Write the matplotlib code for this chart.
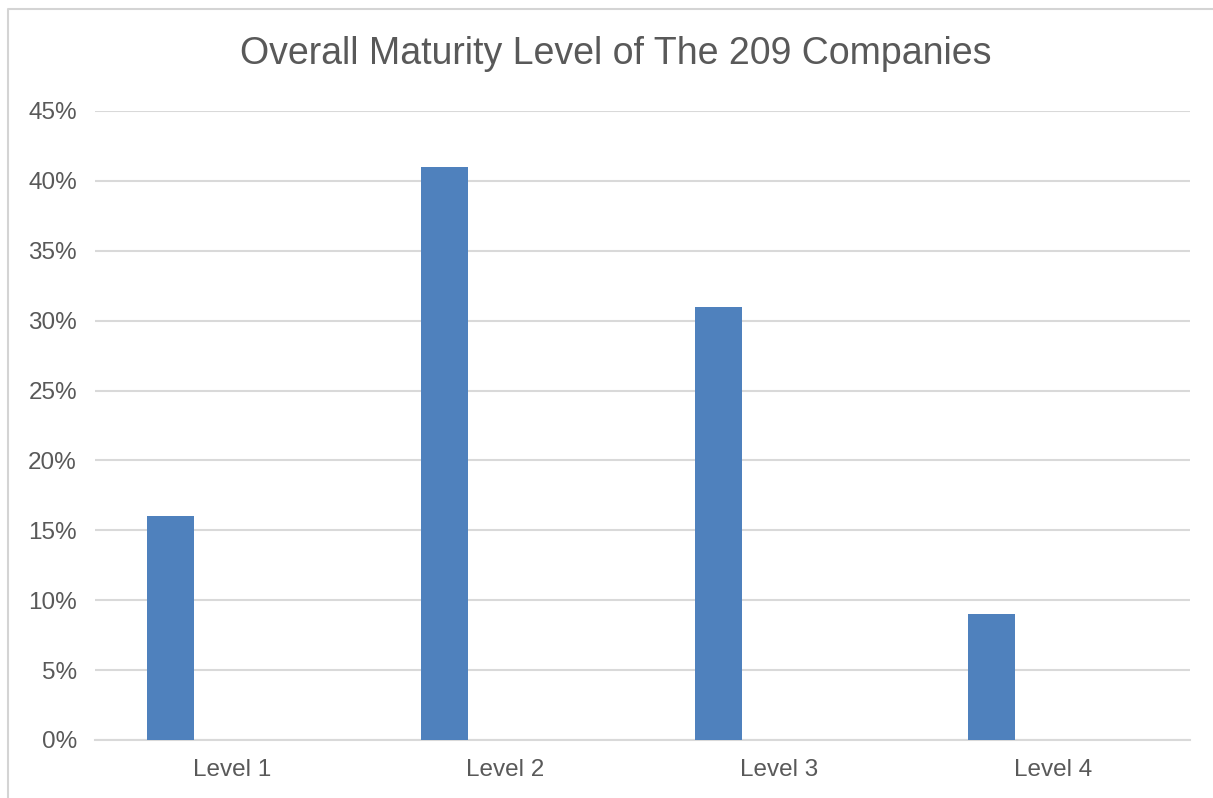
import matplotlib
matplotlib.use("Agg")
import matplotlib.pyplot as plt
from matplotlib.lines import Line2D
from matplotlib.ticker import MultipleLocator, FuncFormatter
import numpy as np

levels = ["Level 1", "Level 2", "Level 3", "Level 4"]
share = [16, 41, 31, 9]  # percent of the 209 companies

plt.rcParams["font.family"] = ["Liberation Sans", "DejaVu Sans"]
TXT = "#595959"
GRID = "#d9d9d9"

fig = plt.figure(figsize=(12.13, 7.98), dpi=100)
W, H = 1213, 798
ax = fig.add_axes([95 / W, 1 - 740 / H, (1190 - 95) / W, (740 - 111) / H])

# chart frame: only its top and left edges are inside the picture
fx, fy = 8 / W, 1 - 9 / H
fig.lines.append(Line2D([fx, fx, 1.0], [0.0, fy, fy], transform=fig.transFigure,
                        color="#d4d4d4", lw=1.5))

x = np.arange(len(levels))
ax.bar(x - 0.224, share, width=0.172, color="#4f81bd", zorder=3)

ax.set_xlim(-0.5, len(levels) - 0.5)
ax.set_ylim(0, 45)
ax.yaxis.set_major_locator(MultipleLocator(5))
ax.yaxis.set_major_formatter(FuncFormatter(lambda v, p: f"{v:.0f}%"))
ax.set_xticks(x, levels)
ax.grid(axis="y", color=GRID, lw=1.5, zorder=0)
for s in ("top", "right", "left"):
    ax.spines[s].set_visible(False)
ax.spines["bottom"].set_color(GRID)
ax.spines["bottom"].set_linewidth(1.5)
ax.tick_params(length=0, labelsize=17.5, colors=TXT)
ax.tick_params(axis="y", pad=13)
ax.tick_params(axis="x", pad=14)

fig.text((240 + 992) / 2 / W, 1 - 54 / H, "Overall Maturity Level of The 209 Companies",
         ha="center", va="center", fontsize=27, color=TXT)

fig.savefig("out.png", dpi=100)
